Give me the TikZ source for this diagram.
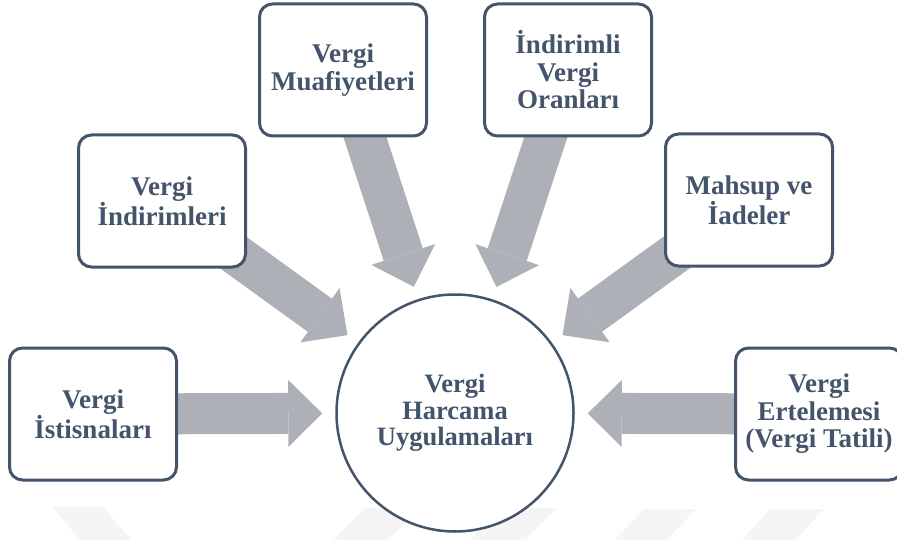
\documentclass[tikz,border=0pt]{standalone}
\usepackage{fontspec}
\setmainfont{Liberation Serif}
\usetikzlibrary{arrows.meta,backgrounds}
\definecolor{lacivert}{RGB}{68,84,106}
\definecolor{okgri}{RGB}{173,176,182}
\definecolor{izgri}{RGB}{245,245,245}
\tikzset{
	kutu/.style={draw=lacivert, line width=3pt, rounded corners=13pt, fill=white, minimum width=167pt, minimum height=132pt, inner sep=1pt, align=center, text=lacivert, font=\bfseries\fontsize{27}{27.5}\selectfont},
	merkez/.style={circle, draw=lacivert, line width=2.5pt, fill=white, minimum size=237pt, inner sep=2pt, align=center, text=lacivert, font=\bfseries\fontsize{26.5}{26.5}\selectfont},
	kalinok/.style={draw=okgri, line width=41pt, -{Triangle[length=34pt,width=67pt,line width=0pt]}, shorten >=13pt},
	iz/.style={fill=izgri}
}
\begin{document}
\begin{tikzpicture}[x=1pt,y=1pt]
	\useasboundingbox (0,0) rectangle (897,-540);
	\node [merkez] (c) at (455,-413) {Vergi\\Harcama\\Uygulamaları};
	\node [kutu] (b1) at (93,-414) {Vergi\\İstisnaları};
	\node [kutu] (b2) at (162,-201) {Vergi\\İndirimleri};
	\node [kutu] (b3) at (343,-70) {Vergi\\Muafiyetleri};
	\node [kutu] (b4) at (568,-70) {İndirimli\\Vergi\\Oranları};
	\node [kutu] (b5) at (749,-200) {Mahsup ve\\İadeler};
	\node [kutu] (b6) at (819,-414) {Vergi\\Ertelemesi\\(Vergi Tatili)};
	\begin{scope}[on background layer]
		\fill [iz] (52,-507) -- (103,-507) -- (136,-545) -- (85,-545) -- cycle;
		\fill [iz] (365,-508) -- (420,-508) -- (383,-545) -- (328,-545) -- cycle;
		\fill [iz] (502,-508) -- (557,-508) -- (520,-545) -- (465,-545) -- cycle;
		\fill [iz] (644,-509) -- (696,-509) -- (662,-545) -- (610,-545) -- cycle;
		\fill [iz] (770,-509) -- (824,-509) -- (791,-545) -- (737,-545) -- cycle;
		\foreach \b in {b1,b2,b3,b4,b5,b6}
			\draw [kalinok] (\b.center) -- (c);
	\end{scope}
\end{tikzpicture}
\end{document}
